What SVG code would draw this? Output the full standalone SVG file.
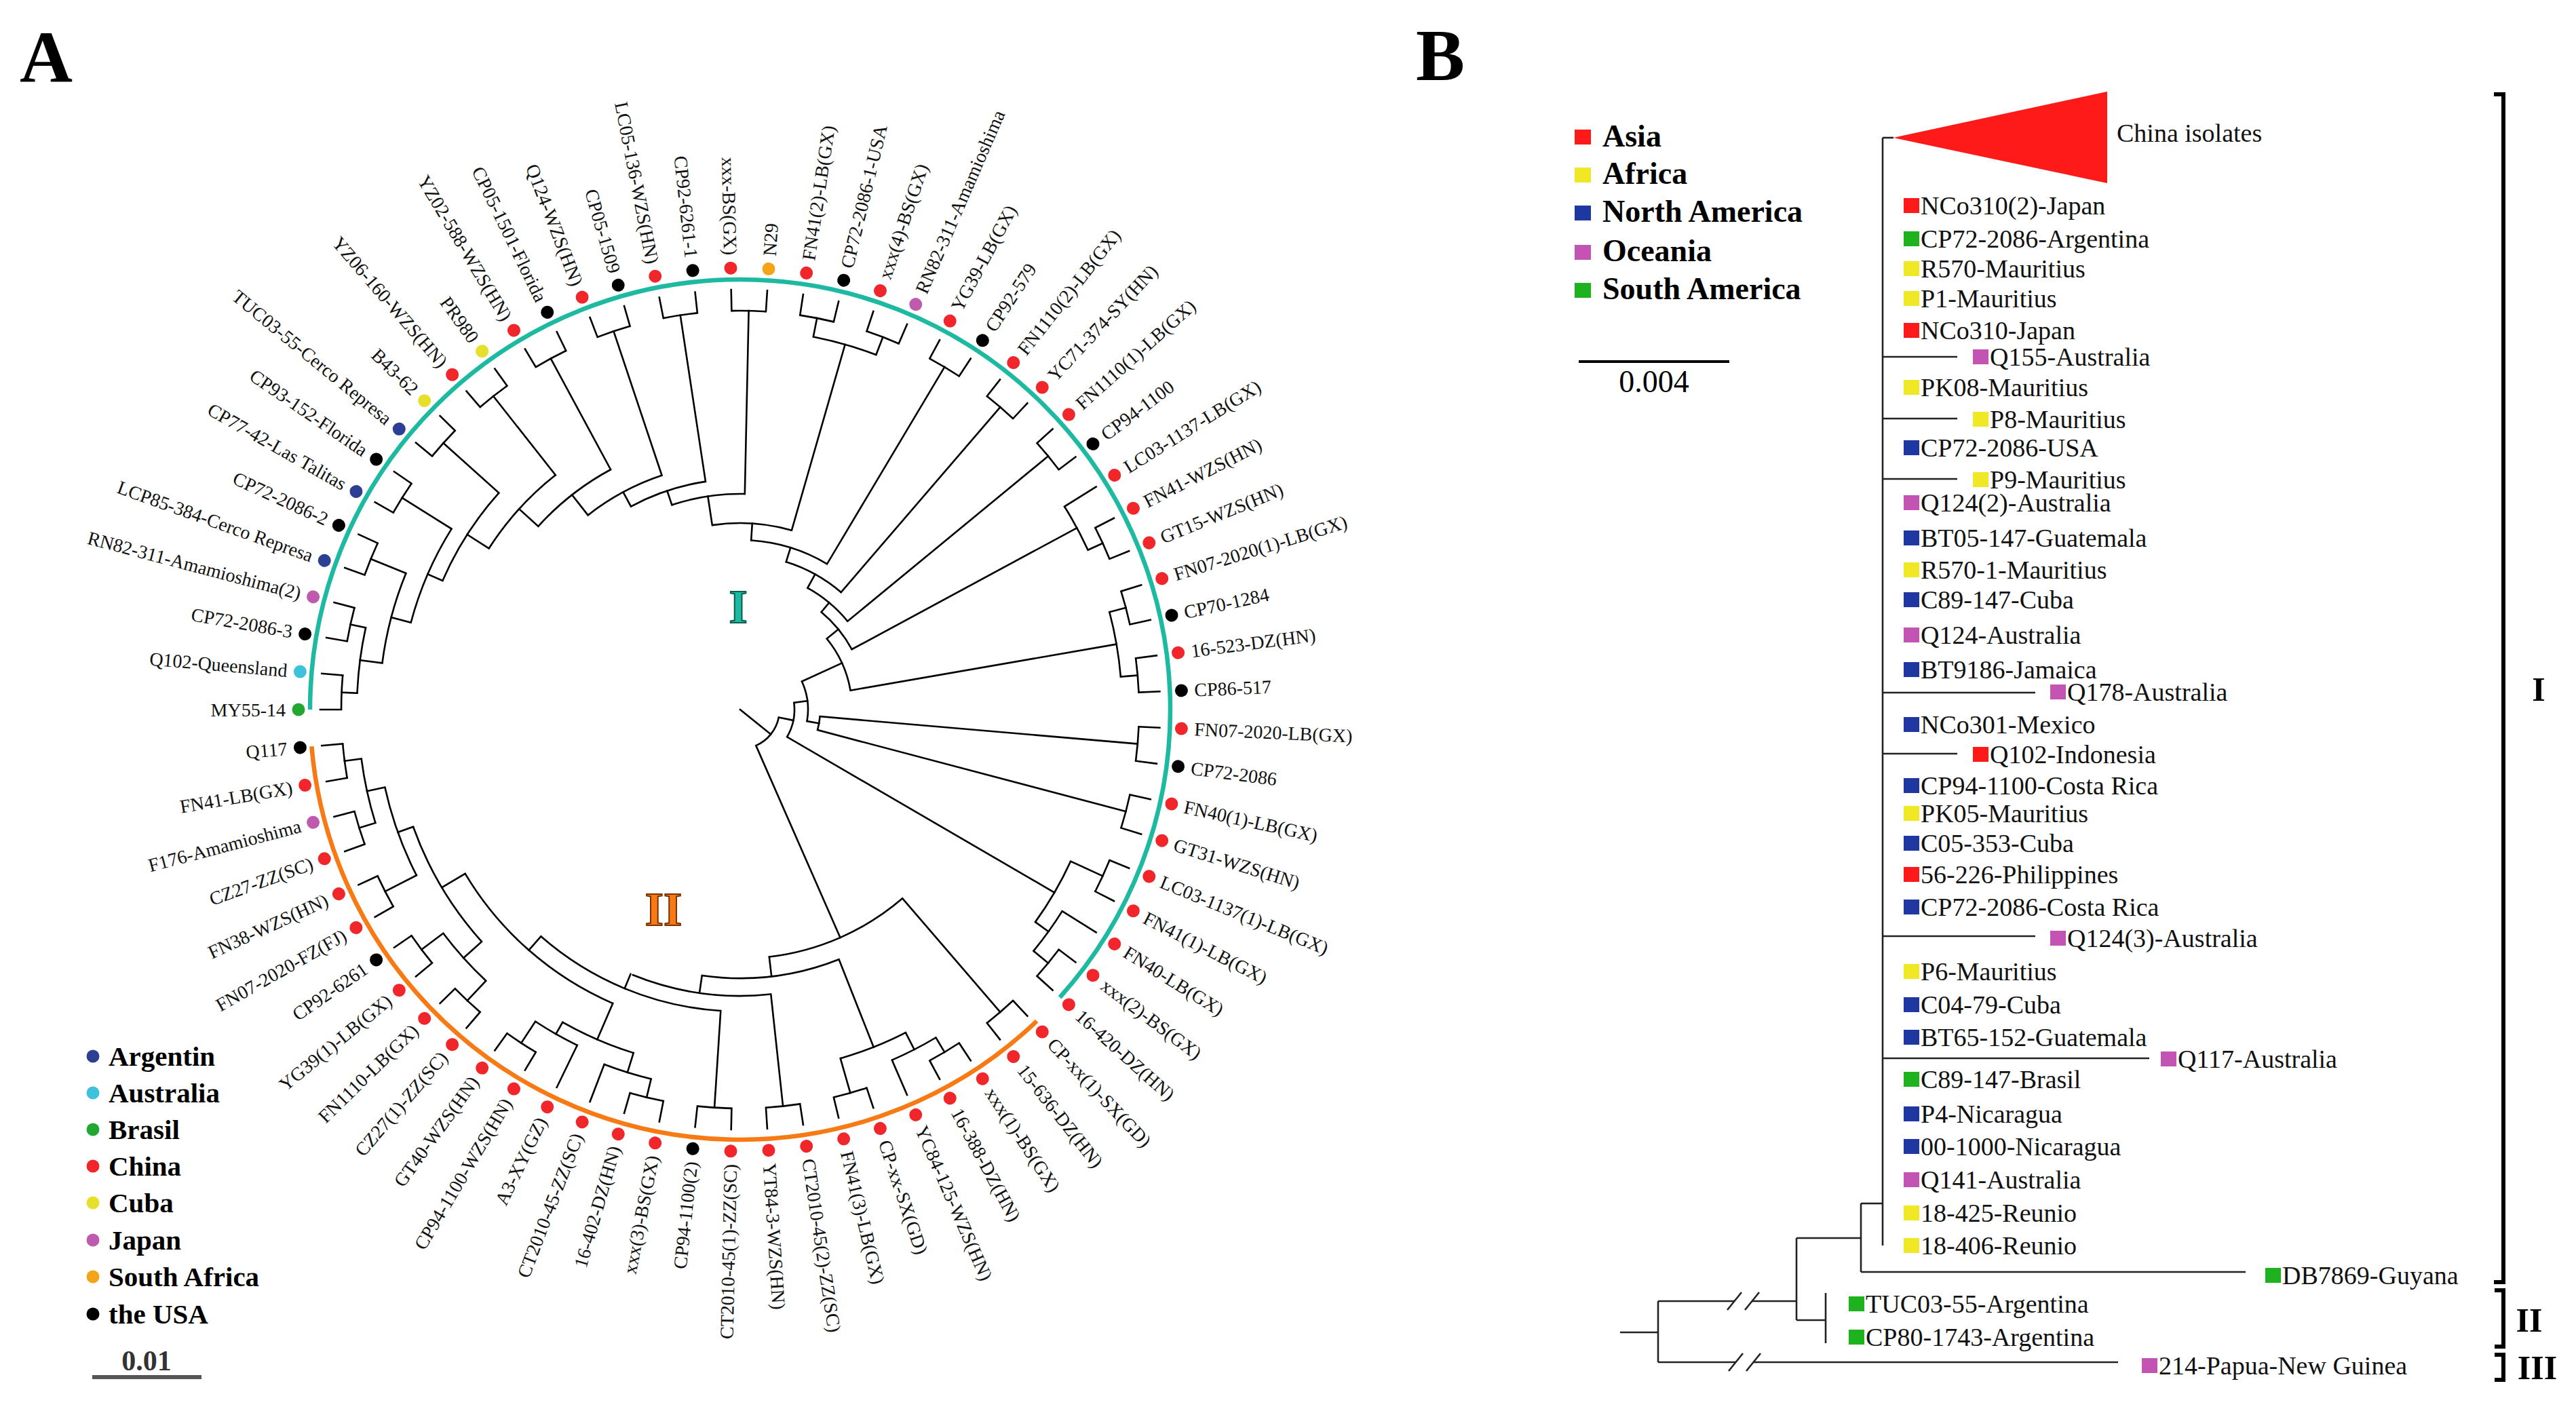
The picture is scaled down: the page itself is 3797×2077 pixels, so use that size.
<svg xmlns="http://www.w3.org/2000/svg" width="3797" height="2077" viewBox="0 0 3797 2077">
<style>
.t{stroke:#000;stroke-width:2.6;fill:none;stroke-linecap:square}
.q{stroke:#000;stroke-width:2.6;fill:none}
.l{font-family:"Liberation Serif","Times New Roman",serif;font-size:28px;fill:#111;dominant-baseline:central}
.e{text-anchor:end}
.bl{font-family:"Liberation Serif","Times New Roman",serif;font-size:38px;fill:#111;dominant-baseline:central}
.lg{font-family:"Liberation Serif","Times New Roman",serif;font-weight:bold;font-size:41px;fill:#000;dominant-baseline:central}
.lb{font-family:"Liberation Serif","Times New Roman",serif;font-weight:bold;font-size:46px;fill:#000}
.big{font-family:"Liberation Serif","Times New Roman",serif;font-weight:bold;font-size:108px;fill:#000}
.rn{font-family:"Liberation Serif","Times New Roman",serif;font-weight:bold;font-size:50px;fill:#000;text-anchor:middle;dominant-baseline:central}
.bt{stroke:#222;stroke-width:2.6;fill:none}
.g{fill:#22A832}.c{fill:#3EC1DC}.k{fill:#000}.m{fill:#BF5BAE}.b{fill:#2D3F92}.y{fill:#E6E02C}.r{fill:#F0262A}.o{fill:#F4A418}
.sr{fill:#FF1A1A}.sy{fill:#F0E824}.sb{fill:#1F37A0}.sm{fill:#C454B4}.sg{fill:#1EB31E}
</style>
<rect width="3797" height="2077" fill="#fff"/>
<text class="big" x="29" y="121">A</text>
<text class="big" x="2087" y="118">B</text>

<g id="treeA" transform="translate(1091,1046)">
<g id="connectorsA">
<circle r="634" pathLength="360" stroke-dasharray="222 400" transform="rotate(180)" fill="none" stroke="#1DB9A0" stroke-width="6.5"/>
<circle r="634" pathLength="360" stroke-dasharray="128.7 400" transform="rotate(406.4)" fill="none" stroke="#F77A14" stroke-width="6.5"/>
<line class="t" x1="588" x2="619" transform="rotate(180)"/>
<line class="t" x1="588" x2="619" transform="rotate(184.93)"/>
<line class="t" x1="588" x2="619" transform="rotate(189.86)"/>
<line class="t" x1="588" x2="619" transform="rotate(194.79)"/>
<line class="t" x1="588" x2="619" transform="rotate(199.73)"/>
<line class="t" x1="588" x2="619" transform="rotate(204.66)"/>
<line class="t" x1="588" x2="619" transform="rotate(209.59)"/>
<line class="t" x1="588" x2="619" transform="rotate(214.52)"/>
<line class="t" x1="588" x2="619" transform="rotate(219.45)"/>
<line class="t" x1="588" x2="619" transform="rotate(224.38)"/>
<line class="t" x1="588" x2="619" transform="rotate(229.32)"/>
<line class="t" x1="588" x2="619" transform="rotate(234.25)"/>
<line class="t" x1="588" x2="619" transform="rotate(239.18)"/>
<line class="t" x1="588" x2="619" transform="rotate(244.11)"/>
<line class="t" x1="588" x2="619" transform="rotate(249.04)"/>
<line class="t" x1="588" x2="619" transform="rotate(253.97)"/>
<line class="t" x1="588" x2="619" transform="rotate(258.90)"/>
<line class="t" x1="588" x2="619" transform="rotate(263.84)"/>
<line class="t" x1="588" x2="619" transform="rotate(268.77)"/>
<line class="t" x1="588" x2="619" transform="rotate(273.70)"/>
<line class="t" x1="588" x2="619" transform="rotate(278.63)"/>
<line class="t" x1="588" x2="619" transform="rotate(283.56)"/>
<line class="t" x1="588" x2="619" transform="rotate(288.49)"/>
<line class="t" x1="588" x2="619" transform="rotate(293.42)"/>
<line class="t" x1="588" x2="619" transform="rotate(298.36)"/>
<line class="t" x1="588" x2="619" transform="rotate(303.29)"/>
<line class="t" x1="588" x2="619" transform="rotate(308.22)"/>
<line class="t" x1="588" x2="619" transform="rotate(313.15)"/>
<line class="t" x1="588" x2="619" transform="rotate(318.08)"/>
<line class="t" x1="588" x2="619" transform="rotate(323.01)"/>
<line class="t" x1="564" x2="619" transform="rotate(327.95)"/>
<line class="t" x1="588" x2="619" transform="rotate(332.88)"/>
<line class="t" x1="588" x2="619" transform="rotate(337.81)"/>
<line class="t" x1="588" x2="619" transform="rotate(342.74)"/>
<line class="t" x1="588" x2="619" transform="rotate(347.67)"/>
<line class="t" x1="588" x2="619" transform="rotate(352.60)"/>
<line class="t" x1="588" x2="619" transform="rotate(357.53)"/>
<line class="t" x1="588" x2="619" transform="rotate(362.47)"/>
<line class="t" x1="588" x2="619" transform="rotate(367.40)"/>
<line class="t" x1="588" x2="619" transform="rotate(372.33)"/>
<line class="t" x1="588" x2="619" transform="rotate(377.26)"/>
<line class="t" x1="588" x2="619" transform="rotate(382.19)"/>
<line class="t" x1="588" x2="619" transform="rotate(387.12)"/>
<line class="t" x1="560" x2="619" transform="rotate(392.05)"/>
<line class="t" x1="588" x2="619" transform="rotate(396.99)"/>
<line class="t" x1="588" x2="619" transform="rotate(401.92)"/>
<line class="t" x1="588" x2="619" transform="rotate(406.85)"/>
<line class="t" x1="588" x2="619" transform="rotate(411.78)"/>
<line class="t" x1="588" x2="619" transform="rotate(416.71)"/>
<line class="t" x1="588" x2="619" transform="rotate(421.64)"/>
<line class="t" x1="563" x2="619" transform="rotate(426.58)"/>
<line class="t" x1="588" x2="619" transform="rotate(431.51)"/>
<line class="t" x1="588" x2="619" transform="rotate(436.44)"/>
<line class="t" x1="588" x2="619" transform="rotate(441.37)"/>
<line class="t" x1="588" x2="619" transform="rotate(446.30)"/>
<line class="t" x1="588" x2="619" transform="rotate(451.23)"/>
<line class="t" x1="588" x2="619" transform="rotate(456.16)"/>
<line class="t" x1="588" x2="619" transform="rotate(461.10)"/>
<line class="t" x1="588" x2="619" transform="rotate(466.03)"/>
<line class="t" x1="560" x2="619" transform="rotate(470.96)"/>
<line class="t" x1="550" x2="619" transform="rotate(475.89)"/>
<line class="t" x1="588" x2="619" transform="rotate(480.82)"/>
<line class="t" x1="588" x2="619" transform="rotate(485.75)"/>
<line class="t" x1="588" x2="619" transform="rotate(490.68)"/>
<line class="t" x1="588" x2="619" transform="rotate(495.62)"/>
<line class="t" x1="588" x2="619" transform="rotate(500.55)"/>
<line class="t" x1="588" x2="619" transform="rotate(505.48)"/>
<line class="t" x1="588" x2="619" transform="rotate(510.41)"/>
<line class="t" x1="588" x2="619" transform="rotate(515.34)"/>
<line class="t" x1="588" x2="619" transform="rotate(520.27)"/>
<line class="t" x1="588" x2="619" transform="rotate(525.21)"/>
<line class="t" x1="588" x2="619" transform="rotate(530.14)"/>
<line class="t" x1="588" x2="619" transform="rotate(535.07)"/>
<circle class="q" r="588" pathLength="360" stroke-dasharray="4.93 400" transform="rotate(180)"/>
<circle class="q" r="588" pathLength="360" stroke-dasharray="4.93 400" transform="rotate(189.86)"/>
<circle class="q" r="588" pathLength="360" stroke-dasharray="4.93 400" transform="rotate(199.73)"/>
<circle class="q" r="588" pathLength="360" stroke-dasharray="4.93 400" transform="rotate(209.59)"/>
<circle class="q" r="588" pathLength="360" stroke-dasharray="4.93 400" transform="rotate(219.45)"/>
<circle class="q" r="588" pathLength="360" stroke-dasharray="4.93 400" transform="rotate(229.32)"/>
<circle class="q" r="588" pathLength="360" stroke-dasharray="4.93 400" transform="rotate(239.18)"/>
<circle class="q" r="588" pathLength="360" stroke-dasharray="4.93 400" transform="rotate(249.04)"/>
<circle class="q" r="588" pathLength="360" stroke-dasharray="4.93 400" transform="rotate(258.90)"/>
<circle class="q" r="588" pathLength="360" stroke-dasharray="4.93 400" transform="rotate(268.77)"/>
<circle class="q" r="588" pathLength="360" stroke-dasharray="4.93 400" transform="rotate(278.63)"/>
<circle class="q" r="588" pathLength="360" stroke-dasharray="4.93 400" transform="rotate(288.49)"/>
<circle class="q" r="588" pathLength="360" stroke-dasharray="4.93 400" transform="rotate(298.36)"/>
<circle class="q" r="588" pathLength="360" stroke-dasharray="4.93 400" transform="rotate(308.22)"/>
<circle class="q" r="588" pathLength="360" stroke-dasharray="4.93 400" transform="rotate(318.08)"/>
<circle class="q" r="588" pathLength="360" stroke-dasharray="4.93 400" transform="rotate(332.88)"/>
<circle class="q" r="588" pathLength="360" stroke-dasharray="4.93 400" transform="rotate(342.74)"/>
<circle class="q" r="588" pathLength="360" stroke-dasharray="4.93 400" transform="rotate(352.60)"/>
<circle class="q" r="588" pathLength="360" stroke-dasharray="4.93 400" transform="rotate(362.47)"/>
<circle class="q" r="588" pathLength="360" stroke-dasharray="4.93 400" transform="rotate(372.33)"/>
<circle class="q" r="588" pathLength="360" stroke-dasharray="4.93 400" transform="rotate(382.19)"/>
<circle class="q" r="588" pathLength="360" stroke-dasharray="4.93 400" transform="rotate(396.99)"/>
<circle class="q" r="588" pathLength="360" stroke-dasharray="4.93 400" transform="rotate(406.85)"/>
<circle class="q" r="588" pathLength="360" stroke-dasharray="4.93 400" transform="rotate(416.71)"/>
<circle class="q" r="588" pathLength="360" stroke-dasharray="4.93 400" transform="rotate(431.51)"/>
<circle class="q" r="588" pathLength="360" stroke-dasharray="4.93 400" transform="rotate(441.37)"/>
<circle class="q" r="588" pathLength="360" stroke-dasharray="4.93 400" transform="rotate(451.23)"/>
<circle class="q" r="588" pathLength="360" stroke-dasharray="4.93 400" transform="rotate(461.10)"/>
<circle class="q" r="588" pathLength="360" stroke-dasharray="4.93 400" transform="rotate(480.82)"/>
<circle class="q" r="588" pathLength="360" stroke-dasharray="4.93 400" transform="rotate(490.68)"/>
<circle class="q" r="588" pathLength="360" stroke-dasharray="4.93 400" transform="rotate(500.55)"/>
<circle class="q" r="588" pathLength="360" stroke-dasharray="4.93 400" transform="rotate(510.41)"/>
<circle class="q" r="588" pathLength="360" stroke-dasharray="4.93 400" transform="rotate(520.27)"/>
<circle class="q" r="588" pathLength="360" stroke-dasharray="4.93 400" transform="rotate(530.14)"/>
<line class="t" x1="565" x2="588" transform="rotate(182.47)"/>
<line class="t" x1="565" x2="588" transform="rotate(192.33)"/>
<line class="t" x1="532" x2="588" transform="rotate(202.19)"/>
<line class="t" x1="502" x2="588" transform="rotate(212.06)"/>
<line class="t" x1="478" x2="588" transform="rotate(221.92)"/>
<line class="t" x1="440" x2="588" transform="rotate(231.78)"/>
<line class="t" x1="402" x2="588" transform="rotate(241.65)"/>
<line class="t" x1="364" x2="588" transform="rotate(251.51)"/>
<line class="t" x1="340" x2="588" transform="rotate(261.37)"/>
<line class="t" x1="318" x2="588" transform="rotate(271.23)"/>
<line class="t" x1="560" x2="588" transform="rotate(281.10)"/>
<line class="t" x1="560" x2="588" transform="rotate(290.96)"/>
<line class="t" x1="250" x2="588" transform="rotate(300.82)"/>
<line class="t" x1="228" x2="588" transform="rotate(310.69)"/>
<line class="t" x1="205" x2="588" transform="rotate(320.55)"/>
<line class="t" x1="564" x2="588" transform="rotate(335.35)"/>
<line class="t" x1="563" x2="588" transform="rotate(345.21)"/>
<line class="t" x1="563" x2="588" transform="rotate(355.07)"/>
<line class="t" x1="118" x2="588" transform="rotate(364.93)"/>
<line class="t" x1="118" x2="588" transform="rotate(374.79)"/>
<line class="t" x1="536" x2="588" transform="rotate(384.66)"/>
<line class="t" x1="560" x2="588" transform="rotate(399.45)"/>
<line class="t" x1="367" x2="588" transform="rotate(409.32)"/>
<line class="t" x1="563" x2="588" transform="rotate(419.18)"/>
<line class="t" x1="535" x2="588" transform="rotate(433.97)"/>
<line class="t" x1="422" x2="588" transform="rotate(443.84)"/>
<line class="t" x1="445" x2="588" transform="rotate(453.70)"/>
<line class="t" x1="560" x2="588" transform="rotate(463.56)"/>
<line class="t" x1="550" x2="588" transform="rotate(483.29)"/>
<line class="t" x1="548" x2="588" transform="rotate(493.15)"/>
<line class="t" x1="548" x2="588" transform="rotate(503.01)"/>
<line class="t" x1="536" x2="588" transform="rotate(512.88)"/>
<line class="t" x1="563" x2="588" transform="rotate(522.74)"/>
<line class="t" x1="563" x2="588" transform="rotate(532.60)"/>
<line class="t" x1="532" x2="565" transform="rotate(187.40)"/>
<line class="t" x1="502" x2="532" transform="rotate(194.80)"/>
<line class="t" x1="478" x2="502" transform="rotate(203.43)"/>
<line class="t" x1="440" x2="478" transform="rotate(212.67)"/>
<line class="t" x1="402" x2="440" transform="rotate(222.23)"/>
<line class="t" x1="364" x2="402" transform="rotate(231.94)"/>
<line class="t" x1="340" x2="364" transform="rotate(241.73)"/>
<line class="t" x1="318" x2="340" transform="rotate(251.55)"/>
<line class="t" x1="275" x2="318" transform="rotate(261.39)"/>
<line class="t" x1="275" x2="560" transform="rotate(286.03)"/>
<line class="t" x1="250" x2="275" transform="rotate(273.71)"/>
<line class="t" x1="228" x2="250" transform="rotate(287.27)"/>
<line class="t" x1="205" x2="228" transform="rotate(298.98)"/>
<line class="t" x1="187" x2="205" transform="rotate(309.77)"/>
<line class="t" x1="187" x2="564" transform="rotate(331.65)"/>
<line class="t" x1="165" x2="187" transform="rotate(320.71)"/>
<line class="t" x1="165" x2="563" transform="rotate(350.14)"/>
<line class="t" x1="100" x2="165" transform="rotate(335.43)"/>
<line class="t" x1="100" x2="118" transform="rotate(369.86)"/>
<line class="t" x1="80" x2="100" transform="rotate(352.65)"/>
<line class="t" x1="80" x2="536" transform="rotate(390.21)"/>
<line class="t" x1="536" x2="560" transform="rotate(395.75)"/>
<line class="t" x1="58" x2="80" transform="rotate(371.43)"/>
<line class="t" x1="58" x2="367" transform="rotate(426.31)"/>
<line class="t" x1="367" x2="396" transform="rotate(443.30)"/>
<line class="t" x1="396" x2="535" transform="rotate(428.43)"/>
<line class="t" x1="535" x2="563" transform="rotate(422.88)"/>
<line class="t" x1="396" x2="422" transform="rotate(458.17)"/>
<line class="t" x1="422" x2="445" transform="rotate(472.50)"/>
<line class="t" x1="445" x2="472" transform="rotate(491.30)"/>
<line class="t" x1="472" x2="530" transform="rotate(473.43)"/>
<line class="t" x1="530" x2="560" transform="rotate(467.26)"/>
<line class="t" x1="530" x2="550" transform="rotate(479.59)"/>
<line class="t" x1="472" x2="512" transform="rotate(509.18)"/>
<line class="t" x1="512" x2="548" transform="rotate(498.08)"/>
<line class="t" x1="512" x2="536" transform="rotate(520.28)"/>
<line class="t" x1="536" x2="563" transform="rotate(527.67)"/>
<line class="t" x1="0" x2="58" transform="rotate(398.87)"/>
<circle class="q" r="565" pathLength="360" stroke-dasharray="9.86 400" transform="rotate(182.47)"/>
<circle class="q" r="532" pathLength="360" stroke-dasharray="14.79 400" transform="rotate(187.40)"/>
<circle class="q" r="502" pathLength="360" stroke-dasharray="17.26 400" transform="rotate(194.80)"/>
<circle class="q" r="478" pathLength="360" stroke-dasharray="18.49 400" transform="rotate(203.43)"/>
<circle class="q" r="440" pathLength="360" stroke-dasharray="19.11 400" transform="rotate(212.67)"/>
<circle class="q" r="402" pathLength="360" stroke-dasharray="19.42 400" transform="rotate(222.23)"/>
<circle class="q" r="364" pathLength="360" stroke-dasharray="19.57 400" transform="rotate(231.94)"/>
<circle class="q" r="340" pathLength="360" stroke-dasharray="19.64 400" transform="rotate(241.73)"/>
<circle class="q" r="318" pathLength="360" stroke-dasharray="19.68 400" transform="rotate(251.55)"/>
<circle class="q" r="560" pathLength="360" stroke-dasharray="9.86 400" transform="rotate(281.10)"/>
<circle class="q" r="275" pathLength="360" stroke-dasharray="24.64 400" transform="rotate(261.39)"/>
<circle class="q" r="250" pathLength="360" stroke-dasharray="27.11 400" transform="rotate(273.71)"/>
<circle class="q" r="228" pathLength="360" stroke-dasharray="23.42 400" transform="rotate(287.27)"/>
<circle class="q" r="205" pathLength="360" stroke-dasharray="21.57 400" transform="rotate(298.98)"/>
<circle class="q" r="564" pathLength="360" stroke-dasharray="7.40 400" transform="rotate(327.95)"/>
<circle class="q" r="187" pathLength="360" stroke-dasharray="21.88 400" transform="rotate(309.77)"/>
<circle class="q" r="563" pathLength="360" stroke-dasharray="9.86 400" transform="rotate(345.21)"/>
<circle class="q" r="165" pathLength="360" stroke-dasharray="29.43 400" transform="rotate(320.71)"/>
<circle class="q" r="118" pathLength="360" stroke-dasharray="9.86 400" transform="rotate(364.93)"/>
<circle class="q" r="100" pathLength="360" stroke-dasharray="34.43 400" transform="rotate(335.43)"/>
<circle class="q" r="560" pathLength="360" stroke-dasharray="7.40 400" transform="rotate(392.05)"/>
<circle class="q" r="536" pathLength="360" stroke-dasharray="11.09 400" transform="rotate(384.66)"/>
<circle class="q" r="80" pathLength="360" stroke-dasharray="37.56 400" transform="rotate(352.65)"/>
<circle class="q" r="58" pathLength="360" stroke-dasharray="54.88 400" transform="rotate(371.43)"/>
<circle class="q" r="367" pathLength="360" stroke-dasharray="33.98 400" transform="rotate(409.32)"/>
<circle class="q" r="396" pathLength="360" stroke-dasharray="29.74 400" transform="rotate(428.43)"/>
<circle class="q" r="535" pathLength="360" stroke-dasharray="11.09 400" transform="rotate(422.88)"/>
<circle class="q" r="563" pathLength="360" stroke-dasharray="7.40 400" transform="rotate(419.18)"/>
<circle class="q" r="422" pathLength="360" stroke-dasharray="28.33 400" transform="rotate(443.84)"/>
<circle class="q" r="445" pathLength="360" stroke-dasharray="37.60 400" transform="rotate(453.70)"/>
<circle class="q" r="472" pathLength="360" stroke-dasharray="35.75 400" transform="rotate(473.43)"/>
<circle class="q" r="530" pathLength="360" stroke-dasharray="12.33 400" transform="rotate(467.26)"/>
<circle class="q" r="560" pathLength="360" stroke-dasharray="7.40 400" transform="rotate(463.56)"/>
<circle class="q" r="550" pathLength="360" stroke-dasharray="7.40 400" transform="rotate(475.89)"/>
<circle class="q" r="512" pathLength="360" stroke-dasharray="22.20 400" transform="rotate(498.08)"/>
<circle class="q" r="548" pathLength="360" stroke-dasharray="9.86 400" transform="rotate(493.15)"/>
<circle class="q" r="536" pathLength="360" stroke-dasharray="14.79 400" transform="rotate(512.88)"/>
<circle class="q" r="563" pathLength="360" stroke-dasharray="9.86 400" transform="rotate(522.74)"/>
</g>
<g id="a0"><circle class="g" cx="651" r="9.5" transform="rotate(180)"/><text class="l e" transform="rotate(0) translate(-670)">MY55-14</text></g>
<g id="a1"><circle class="c" cx="651" r="9.5" transform="rotate(184.93)"/><text class="l e" transform="rotate(4.93) translate(-670)">Q102-Queensland</text></g>
<g id="a2"><circle class="k" cx="651" r="9.5" transform="rotate(189.86)"/><text class="l e" transform="rotate(9.86) translate(-670)">CP72-2086-3</text></g>
<g id="a3"><circle class="m" cx="651" r="9.5" transform="rotate(194.79)"/><text class="l e" transform="rotate(14.79) translate(-670)">RN82-311-Amamioshima(2)</text></g>
<g id="a4"><circle class="b" cx="651" r="9.5" transform="rotate(199.73)"/><text class="l e" transform="rotate(19.73) translate(-670)">LCP85-384-Cerco Represa</text></g>
<g id="a5"><circle class="k" cx="651" r="9.5" transform="rotate(204.66)"/><text class="l e" transform="rotate(24.66) translate(-670)">CP72-2086-2</text></g>
<g id="a6"><circle class="b" cx="651" r="9.5" transform="rotate(209.59)"/><text class="l e" transform="rotate(29.59) translate(-670)">CP77-42-Las Talitas</text></g>
<g id="a7"><circle class="k" cx="651" r="9.5" transform="rotate(214.52)"/><text class="l e" transform="rotate(34.52) translate(-670)">CP93-152-Florida</text></g>
<g id="a8"><circle class="b" cx="651" r="9.5" transform="rotate(219.45)"/><text class="l e" transform="rotate(39.45) translate(-670)">TUC03-55-Cerco Represa</text></g>
<g id="a9"><circle class="y" cx="651" r="9.5" transform="rotate(224.38)"/><text class="l e" transform="rotate(44.38) translate(-670)">B43-62</text></g>
<g id="a10"><circle class="r" cx="651" r="9.5" transform="rotate(229.32)"/><text class="l e" transform="rotate(49.32) translate(-670)">YZ06-160-WZS(HN)</text></g>
<g id="a11"><circle class="y" cx="651" r="9.5" transform="rotate(234.25)"/><text class="l e" transform="rotate(54.25) translate(-670)">PR980</text></g>
<g id="a12"><circle class="r" cx="651" r="9.5" transform="rotate(239.18)"/><text class="l e" transform="rotate(59.18) translate(-670)">YZ02-588-WZS(HN)</text></g>
<g id="a13"><circle class="k" cx="651" r="9.5" transform="rotate(244.11)"/><text class="l e" transform="rotate(64.11) translate(-670)">CP05-1501-Florida</text></g>
<g id="a14"><circle class="r" cx="651" r="9.5" transform="rotate(249.04)"/><text class="l e" transform="rotate(69.04) translate(-670)">Q124-WZS(HN)</text></g>
<g id="a15"><circle class="k" cx="651" r="9.5" transform="rotate(253.97)"/><text class="l e" transform="rotate(73.97) translate(-670)">CP05-1509</text></g>
<g id="a16"><circle class="r" cx="651" r="9.5" transform="rotate(258.90)"/><text class="l e" transform="rotate(78.90) translate(-670)">LC05-136-WZS(HN)</text></g>
<g id="a17"><circle class="k" cx="651" r="9.5" transform="rotate(263.84)"/><text class="l e" transform="rotate(83.84) translate(-670)">CP92-6261-1</text></g>
<g id="a18"><circle class="r" cx="651" r="9.5" transform="rotate(268.77)"/><text class="l e" transform="rotate(88.77) translate(-670)">xxx-BS(GX)</text></g>
<g id="a19"><circle class="o" cx="651" r="9.5" transform="rotate(273.70)"/><text class="l" transform="rotate(273.70) translate(670)">N29</text></g>
<g id="a20"><circle class="r" cx="651" r="9.5" transform="rotate(278.63)"/><text class="l" transform="rotate(278.63) translate(670)">FN41(2)-LB(GX)</text></g>
<g id="a21"><circle class="k" cx="651" r="9.5" transform="rotate(283.56)"/><text class="l" transform="rotate(283.56) translate(670)">CP72-2086-1-USA</text></g>
<g id="a22"><circle class="r" cx="651" r="9.5" transform="rotate(288.49)"/><text class="l" transform="rotate(288.49) translate(670)">xxx(4)-BS(GX)</text></g>
<g id="a23"><circle class="m" cx="651" r="9.5" transform="rotate(293.42)"/><text class="l" transform="rotate(293.42) translate(670)">RN82-311-Amamioshima</text></g>
<g id="a24"><circle class="r" cx="651" r="9.5" transform="rotate(298.36)"/><text class="l" transform="rotate(298.36) translate(670)">YG39-LB(GX)</text></g>
<g id="a25"><circle class="k" cx="651" r="9.5" transform="rotate(303.29)"/><text class="l" transform="rotate(303.29) translate(670)">CP92-579</text></g>
<g id="a26"><circle class="r" cx="651" r="9.5" transform="rotate(308.22)"/><text class="l" transform="rotate(308.22) translate(670)">FN1110(2)-LB(GX)</text></g>
<g id="a27"><circle class="r" cx="651" r="9.5" transform="rotate(313.15)"/><text class="l" transform="rotate(313.15) translate(670)">YC71-374-SY(HN)</text></g>
<g id="a28"><circle class="r" cx="651" r="9.5" transform="rotate(318.08)"/><text class="l" transform="rotate(318.08) translate(670)">FN1110(1)-LB(GX)</text></g>
<g id="a29"><circle class="k" cx="651" r="9.5" transform="rotate(323.01)"/><text class="l" transform="rotate(323.01) translate(670)">CP94-1100</text></g>
<g id="a30"><circle class="r" cx="651" r="9.5" transform="rotate(327.95)"/><text class="l" transform="rotate(327.95) translate(670)">LC03-1137-LB(GX)</text></g>
<g id="a31"><circle class="r" cx="651" r="9.5" transform="rotate(332.88)"/><text class="l" transform="rotate(332.88) translate(670)">FN41-WZS(HN)</text></g>
<g id="a32"><circle class="r" cx="651" r="9.5" transform="rotate(337.81)"/><text class="l" transform="rotate(337.81) translate(670)">GT15-WZS(HN)</text></g>
<g id="a33"><circle class="r" cx="651" r="9.5" transform="rotate(342.74)"/><text class="l" transform="rotate(342.74) translate(670)">FN07-2020(1)-LB(GX)</text></g>
<g id="a34"><circle class="k" cx="651" r="9.5" transform="rotate(347.67)"/><text class="l" transform="rotate(347.67) translate(670)">CP70-1284</text></g>
<g id="a35"><circle class="r" cx="651" r="9.5" transform="rotate(352.60)"/><text class="l" transform="rotate(352.60) translate(670)">16-523-DZ(HN)</text></g>
<g id="a36"><circle class="k" cx="651" r="9.5" transform="rotate(357.53)"/><text class="l" transform="rotate(357.53) translate(670)">CP86-517</text></g>
<g id="a37"><circle class="r" cx="651" r="9.5" transform="rotate(362.47)"/><text class="l" transform="rotate(362.47) translate(670)">FN07-2020-LB(GX)</text></g>
<g id="a38"><circle class="k" cx="651" r="9.5" transform="rotate(367.40)"/><text class="l" transform="rotate(367.40) translate(670)">CP72-2086</text></g>
<g id="a39"><circle class="r" cx="651" r="9.5" transform="rotate(372.33)"/><text class="l" transform="rotate(372.33) translate(670)">FN40(1)-LB(GX)</text></g>
<g id="a40"><circle class="r" cx="651" r="9.5" transform="rotate(377.26)"/><text class="l" transform="rotate(377.26) translate(670)">GT31-WZS(HN)</text></g>
<g id="a41"><circle class="r" cx="651" r="9.5" transform="rotate(382.19)"/><text class="l" transform="rotate(382.19) translate(670)">LC03-1137(1)-LB(GX)</text></g>
<g id="a42"><circle class="r" cx="651" r="9.5" transform="rotate(387.12)"/><text class="l" transform="rotate(387.12) translate(670)">FN41(1)-LB(GX)</text></g>
<g id="a43"><circle class="r" cx="651" r="9.5" transform="rotate(392.05)"/><text class="l" transform="rotate(392.05) translate(670)">FN40-LB(GX)</text></g>
<g id="a44"><circle class="r" cx="651" r="9.5" transform="rotate(396.99)"/><text class="l" transform="rotate(396.99) translate(670)">xxx(2)-BS(GX)</text></g>
<g id="a45"><circle class="r" cx="651" r="9.5" transform="rotate(401.92)"/><text class="l" transform="rotate(401.92) translate(670)">16-420-DZ(HN)</text></g>
<g id="a46"><circle class="r" cx="651" r="9.5" transform="rotate(406.85)"/><text class="l" transform="rotate(406.85) translate(670)">CP-xx(1)-SX(GD)</text></g>
<g id="a47"><circle class="r" cx="651" r="9.5" transform="rotate(411.78)"/><text class="l" transform="rotate(411.78) translate(670)">15-636-DZ(HN)</text></g>
<g id="a48"><circle class="r" cx="651" r="9.5" transform="rotate(416.71)"/><text class="l" transform="rotate(416.71) translate(670)">xxx(1)-BS(GX)</text></g>
<g id="a49"><circle class="r" cx="651" r="9.5" transform="rotate(421.64)"/><text class="l" transform="rotate(421.64) translate(670)">16-388-DZ(HN)</text></g>
<g id="a50"><circle class="r" cx="651" r="9.5" transform="rotate(426.58)"/><text class="l" transform="rotate(426.58) translate(670)">YC84-125-WZS(HN)</text></g>
<g id="a51"><circle class="r" cx="651" r="9.5" transform="rotate(431.51)"/><text class="l" transform="rotate(431.51) translate(670)">CP-xx-SX(GD)</text></g>
<g id="a52"><circle class="r" cx="651" r="9.5" transform="rotate(436.44)"/><text class="l" transform="rotate(436.44) translate(670)">FN41(3)-LB(GX)</text></g>
<g id="a53"><circle class="r" cx="651" r="9.5" transform="rotate(441.37)"/><text class="l" transform="rotate(441.37) translate(670)">CT2010-45(2)-ZZ(SC)</text></g>
<g id="a54"><circle class="r" cx="651" r="9.5" transform="rotate(446.30)"/><text class="l" transform="rotate(446.30) translate(670)">YT84-3-WZS(HN)</text></g>
<g id="a55"><circle class="r" cx="651" r="9.5" transform="rotate(451.23)"/><text class="l e" transform="rotate(-88.77) translate(-670)">CT2010-45(1)-ZZ(SC)</text></g>
<g id="a56"><circle class="k" cx="651" r="9.5" transform="rotate(456.16)"/><text class="l e" transform="rotate(-83.84) translate(-670)">CP94-1100(2)</text></g>
<g id="a57"><circle class="r" cx="651" r="9.5" transform="rotate(461.10)"/><text class="l e" transform="rotate(-78.90) translate(-670)">xxx(3)-BS(GX)</text></g>
<g id="a58"><circle class="r" cx="651" r="9.5" transform="rotate(466.03)"/><text class="l e" transform="rotate(-73.97) translate(-670)">16-402-DZ(HN)</text></g>
<g id="a59"><circle class="r" cx="651" r="9.5" transform="rotate(470.96)"/><text class="l e" transform="rotate(-69.04) translate(-670)">CT2010-45-ZZ(SC)</text></g>
<g id="a60"><circle class="r" cx="651" r="9.5" transform="rotate(475.89)"/><text class="l e" transform="rotate(-64.11) translate(-670)">A3-XY(GZ)</text></g>
<g id="a61"><circle class="r" cx="651" r="9.5" transform="rotate(480.82)"/><text class="l e" transform="rotate(-59.18) translate(-670)">CP94-1100-WZS(HN)</text></g>
<g id="a62"><circle class="r" cx="651" r="9.5" transform="rotate(485.75)"/><text class="l e" transform="rotate(-54.25) translate(-670)">GT40-WZS(HN)</text></g>
<g id="a63"><circle class="r" cx="651" r="9.5" transform="rotate(490.68)"/><text class="l e" transform="rotate(-49.32) translate(-670)">CZ27(1)-ZZ(SC)</text></g>
<g id="a64"><circle class="r" cx="651" r="9.5" transform="rotate(495.62)"/><text class="l e" transform="rotate(-44.38) translate(-670)">FN1110-LB(GX)</text></g>
<g id="a65"><circle class="r" cx="651" r="9.5" transform="rotate(500.55)"/><text class="l e" transform="rotate(-39.45) translate(-670)">YG39(1)-LB(GX)</text></g>
<g id="a66"><circle class="k" cx="651" r="9.5" transform="rotate(505.48)"/><text class="l e" transform="rotate(-34.52) translate(-670)">CP92-6261</text></g>
<g id="a67"><circle class="r" cx="651" r="9.5" transform="rotate(510.41)"/><text class="l e" transform="rotate(-29.59) translate(-670)">FN07-2020-FZ(FJ)</text></g>
<g id="a68"><circle class="r" cx="651" r="9.5" transform="rotate(515.34)"/><text class="l e" transform="rotate(-24.66) translate(-670)">FN38-WZS(HN)</text></g>
<g id="a69"><circle class="r" cx="651" r="9.5" transform="rotate(520.27)"/><text class="l e" transform="rotate(-19.73) translate(-670)">CZ27-ZZ(SC)</text></g>
<g id="a70"><circle class="m" cx="651" r="9.5" transform="rotate(525.21)"/><text class="l e" transform="rotate(-14.79) translate(-670)">F176-Amamioshima</text></g>
<g id="a71"><circle class="r" cx="651" r="9.5" transform="rotate(530.14)"/><text class="l e" transform="rotate(-9.86) translate(-670)">FN41-LB(GX)</text></g>
<g id="a72"><circle class="k" cx="651" r="9.5" transform="rotate(535.07)"/><text class="l e" transform="rotate(-4.93) translate(-670)">Q117</text></g>
<g id="cladeI"><text x="-3" y="-152" font-family="Liberation Serif, serif" font-weight="bold" font-size="70" text-anchor="middle" dominant-baseline="central" fill="#1DB9A0" stroke="#0B5E50" stroke-width="2">I</text></g>
<g id="cladeII"><text x="-113" y="294" font-family="Liberation Serif, serif" font-weight="bold" font-size="70" text-anchor="middle" dominant-baseline="central" fill="#F77A14" stroke="#7A3300" stroke-width="2">II</text></g>
</g>

<g id="legendA">
<g id="lgA1"><circle class="b" cx="137" cy="1557" r="9.5"/><text class="lg" x="160" y="1557">Argentin</text></g>
<g id="lgA2"><circle class="c" cx="137" cy="1611" r="9.5"/><text class="lg" x="160" y="1611">Australia</text></g>
<g id="lgA3"><circle class="g" cx="137" cy="1665" r="9.5"/><text class="lg" x="160" y="1665">Brasil</text></g>
<g id="lgA4"><circle class="r" cx="137" cy="1719" r="9.5"/><text class="lg" x="160" y="1719">China</text></g>
<g id="lgA5"><circle class="y" cx="137" cy="1773" r="9.5"/><text class="lg" x="160" y="1773">Cuba</text></g>
<g id="lgA6"><circle class="m" cx="137" cy="1828" r="9.5"/><text class="lg" x="160" y="1828">Japan</text></g>
<g id="lgA7"><circle class="o" cx="137" cy="1882" r="9.5"/><text class="lg" x="160" y="1882">South Africa</text></g>
<g id="lgA8"><circle class="k" cx="137" cy="1937" r="9.5"/><text class="lg" x="160" y="1937">the USA</text></g>
</g>
<g id="scaleA"><line x1="136" y1="2030" x2="297" y2="2030" stroke="#555" stroke-width="6"/><text x="216" y="2020" font-family="Liberation Serif, serif" font-weight="bold" font-size="42" text-anchor="middle" fill="#333">0.01</text></g>

<g id="legendB">
<g id="lgB1"><rect class="sr" x="2321" y="191" width="24" height="22"/><text class="lb" x="2362" y="216">Asia</text></g>
<g id="lgB2"><rect class="sy" x="2321" y="247" width="24" height="22"/><text class="lb" x="2362" y="271">Africa</text></g>
<g id="lgB3"><rect class="sb" x="2321" y="303" width="24" height="22"/><text class="lb" x="2362" y="327">North America</text></g>
<g id="lgB4"><rect class="sm" x="2321" y="361" width="24" height="22"/><text class="lb" x="2362" y="385">Oceania</text></g>
<g id="lgB5"><rect class="sg" x="2321" y="417" width="24" height="22"/><text class="lb" x="2362" y="441">South America</text></g>
</g>
<g id="scaleB"><line x1="2327" y1="533" x2="2549" y2="533" stroke="#000" stroke-width="4"/><text x="2438" y="578" font-family="Liberation Serif, serif" font-size="46" text-anchor="middle" fill="#000">0.004</text></g>

<g id="connectorsB">
<line class="bt" x1="2775" y1="203" x2="2775" y2="1836"/>
<line class="bt" x1="2775" y1="203" x2="2791" y2="203"/>
<line class="bt" x1="2775" y1="526" x2="2885" y2="526"/>
<line class="bt" x1="2775" y1="617" x2="2885" y2="617"/>
<line class="bt" x1="2775" y1="706" x2="2885" y2="706"/>
<line class="bt" x1="2775" y1="1021" x2="3000" y2="1021"/>
<line class="bt" x1="2775" y1="1111" x2="2885" y2="1111"/>
<line class="bt" x1="2775" y1="1380" x2="3000" y2="1380"/>
<line class="bt" x1="2775" y1="1560" x2="3168" y2="1560"/>
<line class="bt" x1="2743" y1="1774" x2="2775" y2="1774"/>
<line class="bt" x1="2743" y1="1774" x2="2743" y2="1875"/>
<line class="bt" x1="2743" y1="1875" x2="3310" y2="1875"/>
<line class="bt" x1="2648" y1="1825" x2="2743" y2="1825"/>
<line class="bt" x1="2648" y1="1825" x2="2648" y2="1946"/>
<line class="bt" x1="2648" y1="1946" x2="2691" y2="1946"/>
<line class="bt" x1="2691" y1="1906" x2="2691" y2="1980"/>
<line class="bt" x1="2444" y1="1918" x2="2557" y2="1918"/>
<line class="bt" x1="2582" y1="1918" x2="2648" y2="1918"/>
<line class="bt" x1="2546" y1="1931" x2="2567" y2="1905"/>
<line class="bt" x1="2572" y1="1931" x2="2593" y2="1905"/>
<line class="bt" x1="2444" y1="1918" x2="2444" y2="2008"/>
<line class="bt" x1="2444" y1="2008" x2="2559" y2="2008"/>
<line class="bt" x1="2584" y1="2008" x2="3122" y2="2008"/>
<line class="bt" x1="2548" y1="2021" x2="2569" y2="1995"/>
<line class="bt" x1="2574" y1="2021" x2="2595" y2="1995"/>
<line class="bt" x1="2388" y1="1964" x2="2444" y2="1964"/>
<path d="M3676 139H3690V1890H3676" fill="none" stroke="#000" stroke-width="6"/>
<path d="M3677 1902H3690V1985H3677" fill="none" stroke="#000" stroke-width="6"/>
<path d="M3677 1997H3690V2034H3677" fill="none" stroke="#000" stroke-width="6"/>
</g>

<g id="chinaIsolates"><polygon points="2791,203 3106,135 3106,270" fill="#FF1A1A"/><text class="bl" x="3120" y="196">China isolates</text></g>
<g id="b1"><rect class="sr" x="2806" y="292" width="23" height="22"/><text class="bl" x="2831" y="303">NCo310(2)-Japan</text></g>
<g id="b2"><rect class="sg" x="2806" y="341" width="23" height="22"/><text class="bl" x="2831" y="352">CP72-2086-Argentina</text></g>
<g id="b3"><rect class="sy" x="2806" y="385" width="23" height="22"/><text class="bl" x="2831" y="396">R570-Mauritius</text></g>
<g id="b4"><rect class="sy" x="2806" y="429" width="23" height="22"/><text class="bl" x="2831" y="440">P1-Mauritius</text></g>
<g id="b5"><rect class="sr" x="2806" y="476" width="23" height="22"/><text class="bl" x="2831" y="487">NCo310-Japan</text></g>
<g id="b6"><rect class="sm" x="2908" y="515" width="23" height="22"/><text class="bl" x="2933" y="526">Q155-Australia</text></g>
<g id="b7"><rect class="sy" x="2806" y="560" width="23" height="22"/><text class="bl" x="2831" y="571">PK08-Mauritius</text></g>
<g id="b8"><rect class="sy" x="2908" y="607" width="23" height="22"/><text class="bl" x="2933" y="618">P8-Mauritius</text></g>
<g id="b9"><rect class="sb" x="2806" y="649" width="23" height="22"/><text class="bl" x="2831" y="660">CP72-2086-USA</text></g>
<g id="b10"><rect class="sy" x="2908" y="696" width="23" height="22"/><text class="bl" x="2933" y="707">P9-Mauritius</text></g>
<g id="b11"><rect class="sm" x="2806" y="730" width="23" height="22"/><text class="bl" x="2831" y="741">Q124(2)-Australia</text></g>
<g id="b12"><rect class="sb" x="2806" y="782" width="23" height="22"/><text class="bl" x="2831" y="793">BT05-147-Guatemala</text></g>
<g id="b13"><rect class="sy" x="2806" y="829" width="23" height="22"/><text class="bl" x="2831" y="840">R570-1-Mauritius</text></g>
<g id="b14"><rect class="sb" x="2806" y="873" width="23" height="22"/><text class="bl" x="2831" y="884">C89-147-Cuba</text></g>
<g id="b15"><rect class="sm" x="2806" y="925" width="23" height="22"/><text class="bl" x="2831" y="936">Q124-Australia</text></g>
<g id="b16"><rect class="sb" x="2806" y="976" width="23" height="22"/><text class="bl" x="2831" y="987">BT9186-Jamaica</text></g>
<g id="b17"><rect class="sm" x="3022" y="1009" width="23" height="22"/><text class="bl" x="3047" y="1020">Q178-Australia</text></g>
<g id="b18"><rect class="sb" x="2806" y="1057" width="23" height="22"/><text class="bl" x="2831" y="1068">NCo301-Mexico</text></g>
<g id="b19"><rect class="sr" x="2908" y="1101" width="23" height="22"/><text class="bl" x="2933" y="1112">Q102-Indonesia</text></g>
<g id="b20"><rect class="sb" x="2806" y="1147" width="23" height="22"/><text class="bl" x="2831" y="1158">CP94-1100-Costa Rica</text></g>
<g id="b21"><rect class="sy" x="2806" y="1188" width="23" height="22"/><text class="bl" x="2831" y="1199">PK05-Mauritius</text></g>
<g id="b22"><rect class="sb" x="2806" y="1232" width="23" height="22"/><text class="bl" x="2831" y="1243">C05-353-Cuba</text></g>
<g id="b23"><rect class="sr" x="2806" y="1278" width="23" height="22"/><text class="bl" x="2831" y="1289">56-226-Philippines</text></g>
<g id="b24"><rect class="sb" x="2806" y="1326" width="23" height="22"/><text class="bl" x="2831" y="1337">CP72-2086-Costa Rica</text></g>
<g id="b25"><rect class="sm" x="3022" y="1372" width="23" height="22"/><text class="bl" x="3047" y="1383">Q124(3)-Australia</text></g>
<g id="b26"><rect class="sy" x="2806" y="1421" width="23" height="22"/><text class="bl" x="2831" y="1432">P6-Mauritius</text></g>
<g id="b27"><rect class="sb" x="2806" y="1470" width="23" height="22"/><text class="bl" x="2831" y="1481">C04-79-Cuba</text></g>
<g id="b28"><rect class="sb" x="2806" y="1518" width="23" height="22"/><text class="bl" x="2831" y="1529">BT65-152-Guatemala</text></g>
<g id="b29"><rect class="sm" x="3185" y="1550" width="23" height="22"/><text class="bl" x="3210" y="1561">Q117-Australia</text></g>
<g id="b30"><rect class="sg" x="2806" y="1580" width="23" height="22"/><text class="bl" x="2831" y="1591">C89-147-Brasil</text></g>
<g id="b31"><rect class="sb" x="2806" y="1631" width="23" height="22"/><text class="bl" x="2831" y="1642">P4-Nicaragua</text></g>
<g id="b32"><rect class="sb" x="2806" y="1679" width="23" height="22"/><text class="bl" x="2831" y="1690">00-1000-Nicaragua</text></g>
<g id="b33"><rect class="sm" x="2806" y="1728" width="23" height="22"/><text class="bl" x="2831" y="1739">Q141-Australia</text></g>
<g id="b34"><rect class="sy" x="2806" y="1777" width="23" height="22"/><text class="bl" x="2831" y="1788">18-425-Reunio</text></g>
<g id="b35"><rect class="sy" x="2806" y="1825" width="23" height="22"/><text class="bl" x="2831" y="1836">18-406-Reunio</text></g>
<g id="b36"><rect class="sg" x="3339" y="1869" width="23" height="22"/><text class="bl" x="3364" y="1880">DB7869-Guyana</text></g>
<g id="b37"><rect class="sg" x="2725" y="1911" width="23" height="22"/><text class="bl" x="2750" y="1922">TUC03-55-Argentina</text></g>
<g id="b38"><rect class="sg" x="2725" y="1960" width="23" height="22"/><text class="bl" x="2750" y="1971">CP80-1743-Argentina</text></g>
<g id="b39"><rect class="sm" x="3157" y="2002" width="23" height="22"/><text class="bl" x="3182" y="2013">214-Papua-New Guinea</text></g>
<g id="groupI"><text class="rn" x="3742" y="1016">I</text></g>
<g id="groupII"><text class="rn" x="3728" y="1946">II</text></g>
<g id="groupIII"><text class="rn" x="3740" y="2016">III</text></g>
</svg>
